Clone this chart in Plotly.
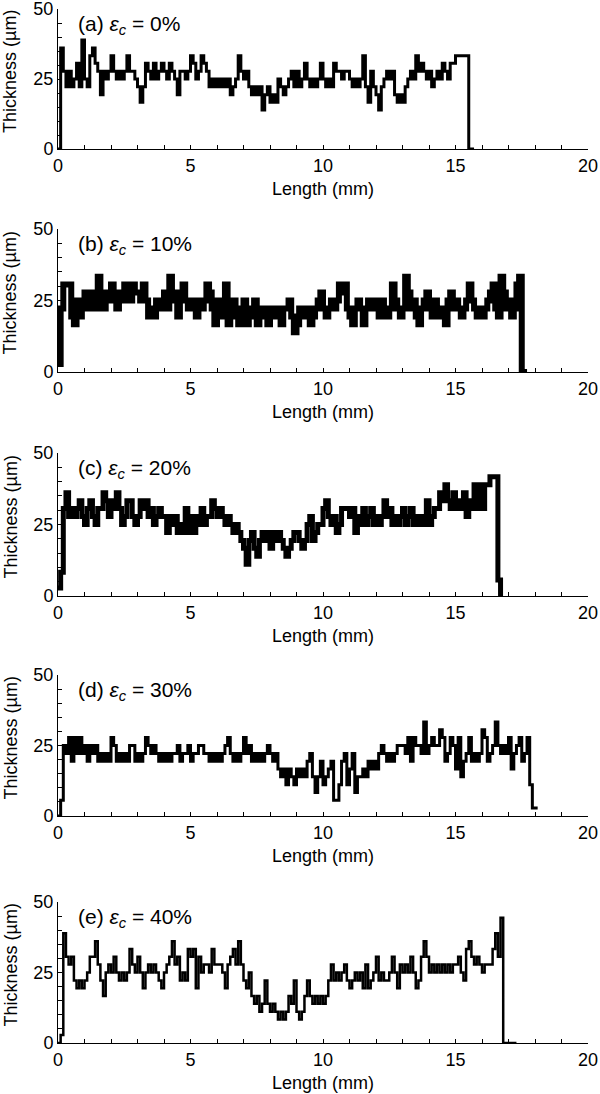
import plotly.graph_objects as go

# Film thickness profiles along the strip (µm), sampled every 0.1 mm
STEP_MM = 0.1

panel_tags = ["(a)", "(b)", "(c)", "(d)", "(e)"]
strain_labels = ["0%", "10%", "20%", "30%", "40%"]

thickness_a = [
    0, 36.1, 27.8, 22.2, 27.8, 22.2, 25, 30.6, 22.2, 38.9,
    25, 22.2, 33.3, 36.1, 30.6, 27.8, 19.4, 27.8, 25, 27.8,
    33.3, 27.8, 25, 27.8, 25, 27.8, 33.3, 27.8, 27.8, 25,
    22.2, 16.7, 22.2, 30.6, 27.8, 25, 30.6, 25, 27.8, 30.6,
    27.8, 25, 30.6, 27.8, 25, 19.4, 27.8, 27.8, 25, 27.8,
    33.3, 30.6, 25, 27.8, 33.3, 30.6, 27.8, 22.2, 25, 22.2,
    25, 22.2, 25, 22.2, 25, 19.4, 22.2, 25, 33.3, 27.8,
    25, 27.8, 22.2, 19.4, 22.2, 19.4, 22.2, 13.9, 19.4, 22.2,
    16.7, 19.4, 16.7, 25, 22.2, 19.4, 22.2, 25, 27.8, 22.2,
    27.8, 22.2, 25, 30.6, 25, 22.2, 25, 22.2, 25, 30.6,
    25, 22.2, 25, 22.2, 30.6, 27.8, 27.8, 25, 27.8, 27.8,
    25, 22.2, 25, 22.2, 25, 33.3, 22.2, 16.7, 27.8, 22.2,
    19.4, 13.9, 22.2, 25, 27.8, 25, 27.8, 19.4, 16.7, 19.4,
    16.7, 22.2, 25, 27.8, 25, 33.3, 27.8, 30.6, 27.8, 25,
    27.8, 22.2, 25, 27.8, 25, 30.6, 27.8, 25, 30.6, 30.6,
    33.3, 33.3, 33.3, 33.3, 33.3, 0, 0, 0,
]

thickness_b = [
    2.8, 22.2, 30.6, 30.6, 30.6, 19.4, 16.7, 25, 19.4, 22.2,
    27.8, 22.2, 25, 27.8, 22.2, 33.3, 25, 22.2, 27.8, 25,
    30.6, 25, 22.2, 27.8, 25, 30.6, 27.8, 25, 30.6, 27.8,
    27.8, 25, 30.6, 25, 19.4, 22.2, 19.4, 25, 22.2, 25,
    27.8, 22.2, 33.3, 27.8, 25, 19.4, 27.8, 30.6, 25, 22.2,
    25, 22.2, 19.4, 25, 22.2, 25, 30.6, 27.8, 22.2, 16.7,
    25, 19.4, 22.2, 30.6, 16.7, 22.2, 25, 19.4, 16.7, 22.2,
    25, 16.7, 22.2, 19.4, 25, 16.7, 22.2, 19.4, 22.2, 16.7,
    22.2, 19.4, 22.2, 19.4, 16.7, 22.2, 22.2, 25, 19.4, 13.9,
    16.7, 22.2, 22.2, 19.4, 22.2, 16.7, 19.4, 22.2, 25, 27.8,
    22.2, 19.4, 22.2, 25, 22.2, 25, 30.6, 27.8, 30.6, 22.2,
    19.4, 16.7, 22.2, 25, 22.2, 16.7, 22.2, 25, 22.2, 25,
    22.2, 19.4, 25, 22.2, 19.4, 22.2, 30.6, 25, 22.2, 19.4,
    22.2, 33.3, 27.8, 22.2, 25, 19.4, 16.7, 22.2, 25, 27.8,
    22.2, 19.4, 25, 22.2, 19.4, 22.2, 16.7, 25, 27.8, 22.2,
    25, 22.2, 19.4, 22.2, 25, 30.6, 25, 22.2, 19.4, 22.2,
    19.4, 22.2, 25, 27.8, 30.6, 22.2, 19.4, 33.3, 27.8, 22.2,
    25, 19.4, 22.2, 30.6, 33.3, 0, 0, 0,
]

thickness_c = [
    2.8, 8.3, 30.6, 36.1, 27.8, 30.6, 27.8, 30.6, 33.3, 27.8,
    25, 30.6, 33.3, 27.8, 25, 30.6, 30.6, 36.1, 33.3, 27.8,
    33.3, 30.6, 36.1, 30.6, 25, 27.8, 33.3, 33.3, 27.8, 25,
    27.8, 33.3, 30.6, 33.3, 27.8, 30.6, 25, 27.8, 30.6, 27.8,
    27.8, 22.2, 27.8, 25, 27.8, 22.2, 25, 22.2, 30.6, 22.2,
    27.8, 22.2, 27.8, 25, 30.6, 25, 27.8, 27.8, 33.3, 30.6,
    27.8, 30.6, 27.8, 25, 27.8, 25, 22.2, 25, 22.2, 19.4,
    16.7, 11.1, 19.4, 22.2, 16.7, 13.9, 19.4, 22.2, 19.4, 22.2,
    16.7, 22.2, 19.4, 22.2, 19.4, 16.7, 13.9, 16.7, 19.4, 22.2,
    22.2, 19.4, 16.7, 19.4, 25, 27.8, 19.4, 22.2, 25, 25,
    30.6, 33.3, 27.8, 25, 27.8, 22.2, 25, 30.6, 30.6, 30.6,
    27.8, 30.6, 22.2, 27.8, 25, 30.6, 25, 27.8, 30.6, 25,
    27.8, 25, 27.8, 33.3, 27.8, 30.6, 25, 27.8, 25, 27.8,
    30.6, 25, 27.8, 30.6, 25, 27.8, 25, 27.8, 25, 33.3,
    25, 27.8, 30.6, 30.6, 36.1, 33.3, 38.9, 33.3, 30.6, 36.1,
    30.6, 33.3, 30.6, 36.1, 27.8, 33.3, 30.6, 38.9, 30.6, 38.9,
    30.6, 38.9, 38.9, 41.7, 41.7, 41.7, 5.6, 0,
]

thickness_d = [
    0, 5.6, 25, 22.2, 27.8, 19.4, 27.8, 22.2, 27.8, 22.2,
    25, 19.4, 25, 22.2, 25, 19.4, 22.2, 19.4, 22.2, 19.4,
    27.8, 25, 19.4, 22.2, 19.4, 22.2, 19.4, 25, 25, 19.4,
    22.2, 19.4, 22.2, 27.8, 25, 22.2, 25, 22.2, 19.4, 22.2,
    19.4, 22.2, 19.4, 22.2, 22.2, 25, 19.4, 22.2, 22.2, 25,
    19.4, 22.2, 22.2, 25, 25, 22.2, 22.2, 19.4, 22.2, 19.4,
    22.2, 19.4, 22.2, 25, 27.8, 22.2, 19.4, 22.2, 19.4, 22.2,
    27.8, 22.2, 25, 19.4, 22.2, 19.4, 22.2, 19.4, 22.2, 25,
    22.2, 19.4, 22.2, 16.7, 13.9, 16.7, 11.1, 16.7, 13.9, 11.1,
    16.7, 13.9, 16.7, 13.9, 19.4, 22.2, 13.9, 8.3, 13.9, 19.4,
    11.1, 13.9, 16.7, 19.4, 5.6, 5.6, 11.1, 19.4, 22.2, 11.1,
    16.7, 22.2, 8.3, 13.9, 13.9, 16.7, 13.9, 19.4, 16.7, 19.4,
    16.7, 22.2, 25, 22.2, 19.4, 22.2, 19.4, 22.2, 25, 25,
    25, 22.2, 27.8, 19.4, 27.8, 25, 25, 22.2, 33.3, 22.2,
    25, 27.8, 25, 25, 30.6, 27.8, 19.4, 22.2, 27.8, 25,
    16.7, 27.8, 13.9, 19.4, 22.2, 27.8, 19.4, 22.2, 19.4, 22.2,
    30.6, 27.8, 19.4, 22.2, 25, 33.3, 25, 22.2, 25, 22.2,
    27.8, 16.7, 22.2, 25, 27.8, 19.4, 22.2, 27.8, 11.1, 2.8,
    2.8, 2.8,
]

thickness_e = [
    0, 2.8, 38.9, 30.6, 27.8, 30.6, 22.2, 19.4, 22.2, 19.4,
    22.2, 25, 30.6, 30.6, 36.1, 27.8, 22.2, 16.7, 25, 27.8,
    25, 30.6, 25, 22.2, 25, 22.2, 25, 33.3, 27.8, 25,
    30.6, 25, 19.4, 25, 27.8, 25, 27.8, 25, 22.2, 19.4,
    25, 27.8, 30.6, 36.1, 27.8, 30.6, 22.2, 25, 22.2, 33.3,
    30.6, 33.3, 19.4, 30.6, 25, 27.8, 27.8, 25, 33.3, 27.8,
    27.8, 27.8, 25, 19.4, 27.8, 30.6, 33.3, 27.8, 36.1, 27.8,
    22.2, 19.4, 25, 16.7, 13.9, 16.7, 11.1, 13.9, 22.2, 13.9,
    11.1, 13.9, 11.1, 8.3, 11.1, 8.3, 11.1, 16.7, 13.9, 22.2,
    11.1, 8.3, 11.1, 16.7, 22.2, 16.7, 13.9, 16.7, 13.9, 16.7,
    13.9, 16.7, 22.2, 27.8, 22.2, 25, 22.2, 25, 27.8, 22.2,
    19.4, 22.2, 25, 22.2, 25, 19.4, 27.8, 19.4, 22.2, 25,
    30.6, 22.2, 25, 22.2, 22.2, 25, 30.6, 25, 19.4, 27.8,
    25, 27.8, 25, 30.6, 25, 19.4, 22.2, 30.6, 36.1, 30.6,
    25, 27.8, 25, 27.8, 25, 27.8, 25, 27.8, 25, 27.8,
    27.8, 30.6, 25, 22.2, 33.3, 36.1, 30.6, 27.8, 30.6, 27.8,
    25, 27.8, 27.8, 27.8, 33.3, 38.9, 30.6, 44.4, 0, 0,
    0, 0, 0, 0,
]

series = [thickness_a, thickness_b, thickness_c, thickness_d, thickness_e]

# page geometry (pixels)
W, H = 600, 1094
LEFT, RIGHT = 58, 588
tops = [9, 229, 453, 675, 902]
bottoms = [149, 372, 596, 816, 1043]
line_widths = [3, 6, 5, 3, 2.5]

FONT = "Liberation Sans, Arial, sans-serif"

fig = go.Figure()
annotations = []

for i, vals in enumerate(series):
    sfx = "" if i == 0 else str(i + 1)
    lengths = [round(k * STEP_MM, 1) for k in range(len(vals))]
    fig.add_trace(go.Scatter(
        x=lengths, y=vals, mode="lines",
        line=dict(shape="hv", color="black", width=line_widths[i]),
        xaxis="x" + sfx, yaxis="y" + sfx, showlegend=False,
    ))

    y0 = 1 - bottoms[i] / H
    y1 = 1 - tops[i] / H
    common = dict(
        showline=True, linecolor="black", linewidth=1,
        showgrid=False, zeroline=False, automargin=False,
        ticks="inside", ticklen=4, tickwidth=1, tickcolor="black",
        tickfont=dict(family=FONT, size=18, color="black"),
        ticklabeloverflow="allow",
        fixedrange=True,
    )
    fig.layout["xaxis" + sfx] = dict(
        domain=[LEFT / W, RIGHT / W], anchor="y" + sfx,
        range=[0, 20], tick0=0, dtick=5,
        minor=dict(dtick=1, ticks="inside", ticklen=4, tickcolor="black"),
        **common,
    )
    fig.layout["yaxis" + sfx] = dict(
        domain=[y0, y1], anchor="x" + sfx,
        range=[0, 50], tick0=0, dtick=25,
        minor=dict(dtick=5, ticks="inside", ticklen=4, tickcolor="black"),
        **common,
    )

    annotations.append(dict(
        text=f"{panel_tags[i]} <i>ε</i><sub><i>c</i></sub> = {strain_labels[i]}",
        xref="paper", yref="paper", x=76 / W, y=1 - (tops[i] + 16) / H,
        xanchor="left", yanchor="middle", showarrow=False,
        font=dict(family=FONT, size=21, color="black"),
    ))
    annotations.append(dict(
        text="Length (mm)",
        xref="paper", yref="paper", x=(LEFT + RIGHT) / 2 / W, y=1 - (bottoms[i] + 40) / H,
        xanchor="center", yanchor="middle", showarrow=False,
        font=dict(family=FONT, size=18, color="black"),
    ))
    annotations.append(dict(
        text="Thickness (µm)", textangle=-90,
        xref="paper", yref="paper", x=10 / W,
        y=1 - ((tops[i] + bottoms[i]) / 2 - 7) / H,
        xanchor="center", yanchor="middle", showarrow=False,
        font=dict(family=FONT, size=18, color="black"),
    ))

fig.update_layout(
    width=W, height=H,
    margin=dict(l=0, r=0, t=0, b=0),
    paper_bgcolor="white", plot_bgcolor="white",
    annotations=annotations,
)

# drop the browser's default page margin so the figure sits at the window origin
fig.write_html(
    "out.html",
    config={"displayModeBar": False},
    post_script="document.body.style.margin='0';",
)
